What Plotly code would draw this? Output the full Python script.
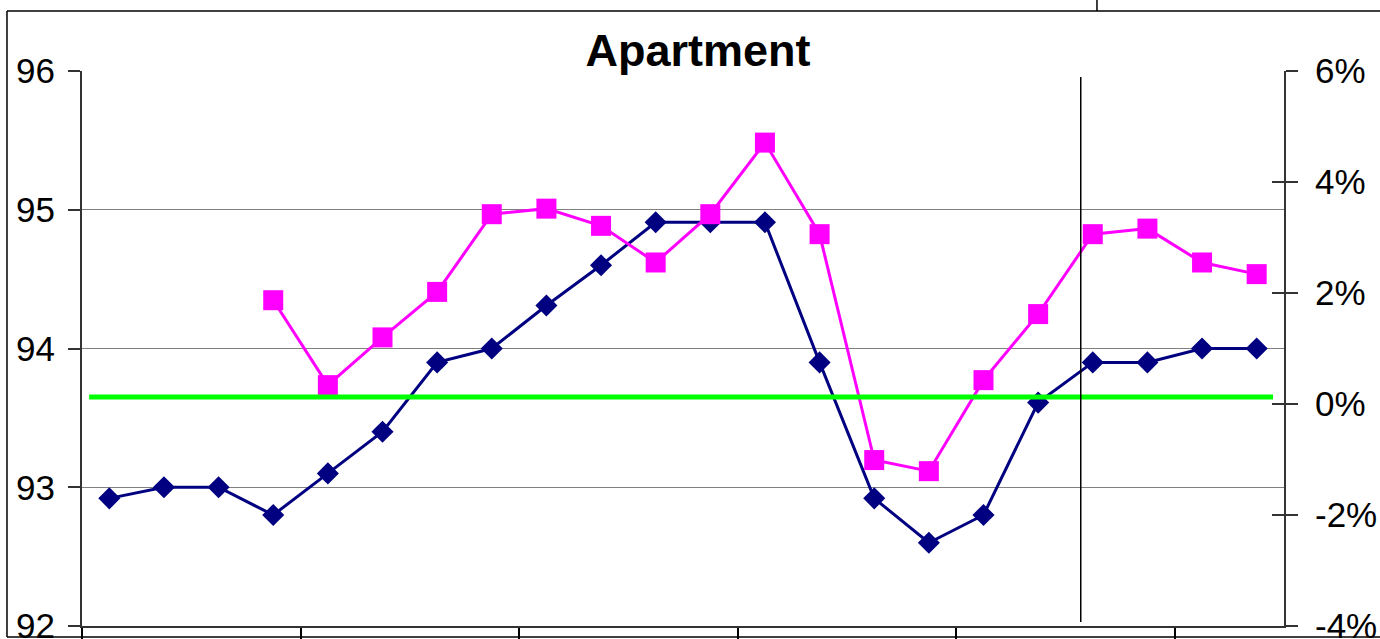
import plotly.graph_objects as go

# Quarterly periods (22 observations)
periods = list(range(22))

# Apartment index level (left axis)
index_level = [92.92, 93.0, 93.0, 92.8, 93.1, 93.4, 93.9, 94.0, 94.31, 94.6, 94.91,
               94.91, 94.91, 93.9, 92.92, 92.6, 92.8, 93.61, 93.9, 93.9, 94.0, 94.0]

# Annual change in % (right axis), first three periods not available
annual_change = [None, None, None, 1.87, 0.34, 1.2, 2.02, 3.42, 3.52, 3.21, 2.55,
                 3.42, 4.71, 3.06, -1.01, -1.21, 0.43, 1.62, 3.06, 3.16, 2.55, 2.34]

left_ticks = [92, 93, 94, 95, 96]
right_ticks = [-4, -2, 0, 2, 4, 6]
right_tick_text = ["-4%", "-2%", "0%", "2%", "4%", "6%"]
year_boundaries = [-0.5, 3.5, 7.5, 11.5, 15.5, 19.5]

reference_level = 93.65
marker_period = 17.78

FONT = "Liberation Sans, Arial, sans-serif"

fig = go.Figure()

fig.add_trace(go.Scatter(
    x=periods, y=index_level, mode="lines+markers",
    line=dict(color="#000080", width=3),
    marker=dict(symbol="diamond", size=17, color="#000080"),
    yaxis="y", showlegend=False,
))

fig.add_trace(go.Scatter(
    x=periods, y=annual_change, mode="lines+markers",
    line=dict(color="#FF00FF", width=3),
    marker=dict(symbol="square", size=20, color="#FF00FF"),
    yaxis="y2", showlegend=False, connectgaps=False,
))

# reference level line
fig.add_shape(type="line", xref="x", yref="y", x0=-0.37, x1=21.3,
              y0=reference_level, y1=reference_level,
              line=dict(color="#00FF00", width=5), layer="above")

# vertical divider
fig.add_shape(type="line", xref="x", yref="paper", x0=marker_period, x1=marker_period,
              y0=0.007, y1=0.989, line=dict(color="#000000", width=1.5), layer="above")

# outer chart frame
frame = dict(color="#000000", width=1.5)
fig.add_shape(type="line", xref="paper", yref="paper", x0=-0.0624, x1=-0.0624,
              y0=-0.0198, y1=1.1081, line=frame)
fig.add_shape(type="line", xref="paper", yref="paper", x0=-0.0624, x1=1.1,
              y0=1.1081, y1=1.1081, line=frame)
fig.add_shape(type="line", xref="paper", yref="paper", x0=-0.0624, x1=1.1,
              y0=-0.0198, y1=-0.0198, line=frame)
fig.add_shape(type="line", xref="paper", yref="paper", x0=0.8444, x1=0.8444,
              y0=1.1081, y1=1.14, line=frame)

fig.update_layout(
    width=1380, height=639,
    margin=dict(l=82, r=96, t=71, b=13, autoexpand=False),
    paper_bgcolor="white", plot_bgcolor="white",
    font=dict(family=FONT, size=35, color="#000000"),
    title=dict(text="<b>Apartment</b>", x=0.5058, xanchor="center",
               y=1 - 50 / 639, yanchor="middle", yref="container",
               font=dict(family=FONT, size=45, color="#000000")),
    xaxis=dict(range=[-0.5, 21.5], tickvals=year_boundaries, ticktext=[""] * len(year_boundaries),
               ticks="outside", ticklen=11, tickwidth=1.5, tickcolor="#000000",
               showgrid=False, zeroline=False, showline=True, linecolor="#333333", linewidth=2,
               automargin=False),
    yaxis=dict(range=[92, 96], tickvals=left_ticks, ticks="outside", ticklen=12,
               tickwidth=1.5, tickcolor="#333333", ticklabelstandoff=6,
               ticklabeloverflow="allow",
               showgrid=True, gridcolor="#808080", gridwidth=1.2, zeroline=False,
               showline=True, linecolor="#333333", linewidth=2, automargin=False),
    yaxis2=dict(range=[-4, 6], tickvals=right_ticks, ticktext=right_tick_text,
                overlaying="y", side="right", ticks="outside", ticklen=12,
                tickwidth=1.5, tickcolor="#333333", ticklabelstandoff=10,
                ticklabeloverflow="allow",
                showgrid=False, zeroline=False, showline=True,
                linecolor="#333333", linewidth=2, automargin=False),
    yaxis3=dict(range=[-4, 6], tickvals=right_ticks, overlaying="y", side="right",
                ticks="inside", ticklen=12, tickwidth=1.5, tickcolor="#333333",
                showticklabels=False, showgrid=False, zeroline=False, showline=False,
                automargin=False),
)

# empty trace that anchors the inside-tick axis
fig.add_trace(go.Scatter(x=[None], y=[None], yaxis="y3", showlegend=False, hoverinfo="skip"))

fig.write_html("out.html")
